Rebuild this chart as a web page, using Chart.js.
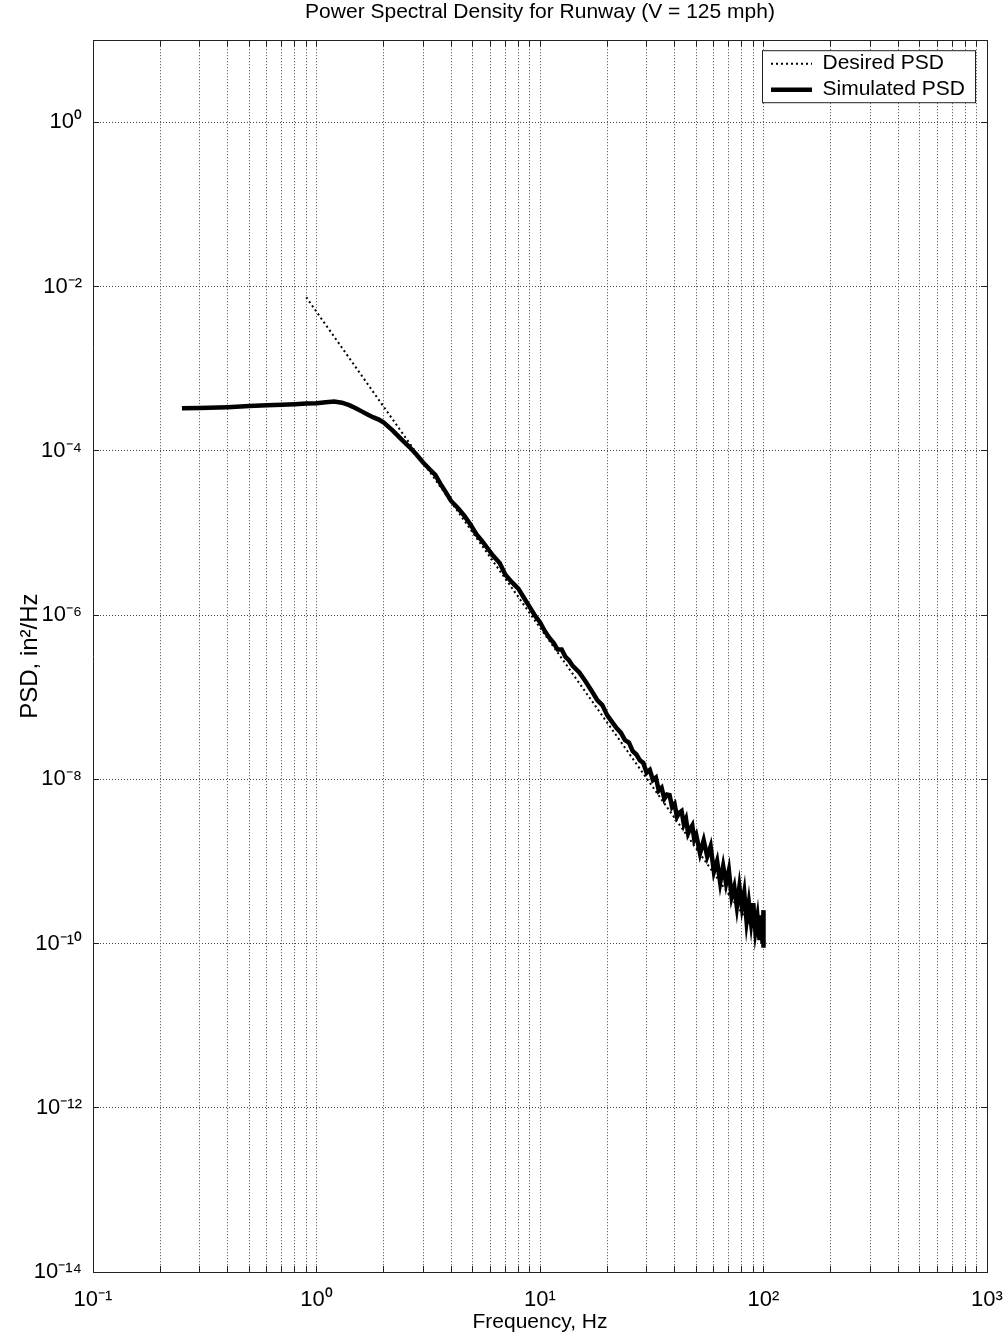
<!DOCTYPE html>
<html>
<head>
<meta charset="utf-8">
<script src="https://cdn.jsdelivr.net/npm/chart.js@4.4.1/dist/chart.umd.min.js"></script>
<style>
  html, body { margin: 0; padding: 0; background: #fff; }
  canvas { display: block; }
</style>
</head>
<body>
<canvas id="psdChart" width="1008" height="1340"></canvas>
<script>
// simulated PSD (Hz, in^2/Hz)
const simFreq = [
  0.25, 0.3, 0.4, 0.5, 0.6, 0.7, 0.8, 0.9, 1.0, 1.1,
  1.2, 1.3, 1.4, 1.5, 1.6, 1.7, 1.8, 1.9, 2.0, 2.2,
  2.4, 2.6, 2.8, 3.0, 3.2, 3.4, 3.6, 3.8, 4.0, 4.3,
  4.6, 4.9, 5.2, 5.5, 5.8, 6.2, 6.6, 7.0, 7.5, 8.0,
  8.5, 9.0, 9.5, 10, 10.5, 11, 11.5, 12, 12.5, 13,
  13.5, 14, 15, 16, 17, 18, 19, 20, 21, 22,
  23, 24, 25, 26, 27, 28, 29, 30, 31, 32,
  33, 34, 35, 36, 37, 38, 39, 40, 41, 42,
  43, 44, 45, 46, 47, 48, 49, 50, 52, 54,
  56, 58, 60, 62, 64, 66, 68, 70, 72, 74,
  76, 78, 80, 82, 84, 86, 88, 90, 92, 94,
  96, 98, 99, 100, 100
];
const simPsd = [
  3.3e-4, 3.32e-4, 3.4e-4, 3.5e-4, 3.58e-4, 3.64e-4, 3.7e-4, 3.76e-4, 3.8e-4, 3.9e-4,
  3.98e-4, 3.85e-4, 3.6e-4, 3.3e-4, 3.0e-4, 2.75e-4, 2.55e-4, 2.4e-4, 2.2e-4, 1.75e-4,
  1.38e-4, 1.12e-4, 9.0e-5, 7.2e-5, 6.0e-5, 5.1e-5, 3.9e-5, 3.1e-5, 2.45e-5, 2.0e-5,
  1.6e-5, 1.25e-5, 9.6e-6, 8.0e-6, 6.6e-6, 5.2e-6, 4.3e-6, 3.1e-6, 2.5e-6, 2.1e-6,
  1.6e-6, 1.25e-6, 9.8e-7, 8.2e-7, 6.4e-7, 5.3e-7, 4.6e-7, 3.8e-7, 3.8e-7, 3.1e-7,
  2.8e-7, 2.4e-7, 2.0e-7, 1.55e-7, 1.2e-7, 9.3e-8, 8.0e-8, 6.0e-8, 5.0e-8, 4.2e-8,
  3.7e-8, 3.0e-8, 2.8e-8, 2.2e-8, 2.0e-8, 1.7e-8, 1.58e-8, 1.20e-8, 1.30e-8, 9.8e-9,
  1.05e-8, 7.3e-9, 7.9e-9, 5.8e-9, 6.5e-9, 6.4e-9, 4.6e-9, 5.0e-9, 3.5e-9, 3.9e-9,
  4.1e-9, 2.85e-9, 3.3e-9, 2.2e-9, 2.5e-9, 2.75e-9, 1.86e-9, 2.1e-9, 1.25e-9, 1.81e-9,
  1.15e-9, 1.53e-9, 7.5e-10, 1.01e-9, 5.5e-10, 8.8e-10, 5.4e-10, 7.8e-10, 3.7e-10, 4.9e-10,
  2.8e-10, 4.9e-10, 2.8e-10, 4.2e-10, 1.87e-10, 3.1e-10, 1.79e-10, 3.1e-10, 1.42e-10, 2.1e-10,
  1.10e-10, 2.2e-10, 1.0e-10, 2.55e-10, 8.9e-11
];

// desired PSD (straight power law on log-log)
const desiredFreq = [0.9, 100];
const desiredPsd = [7.4e-3, 1.0e-10];

const xMajor = [0.1, 1, 10, 100, 1000];
const xTickLabels = ['10⁻¹', '10⁰', '10¹', '10²', '10³'];
const yMajor = [1e-14, 1e-12, 1e-10, 1e-8, 1e-6, 1e-4, 1e-2, 1];
const yTickLabels = ['10⁻¹⁴', '10⁻¹²', '10⁻¹⁰', '10⁻⁸', '10⁻⁶', '10⁻⁴', '10⁻²', '10⁰'];

// x grid: every 1..9 step in each decade
const xGrid = [];
xMajor.slice(0, -1).forEach(d => {
  for (let k = 1; k < 10; k++) xGrid.push(k * d);
});
xGrid.push(xMajor[xMajor.length - 1]);

const toPoints = (xs, ys) => xs.map((x, i) => ({ x: x, y: ys[i] }));

Chart.defaults.font.family = "'Liberation Sans', Arial, sans-serif";
Chart.defaults.font.size = 21;
Chart.defaults.color = '#000';

const INK = '#222';

// white framed legend box in the top right corner of the plot
const legendFrame = {
  id: 'legendFrame',
  afterLayout(chart) {
    const a = chart.chartArea;
    const lg = chart.legend;
    const frame = { left: a.right - 225, top: a.top + 10, width: 213, height: 52 };
    chart.$legendFrame = frame;
    lg.left = frame.left + 4;
    lg.top = frame.top - 2;
    lg.right = lg.left + lg.width;
    lg.bottom = lg.top + lg.height;
  },
  beforeDatasetsDraw(chart) {
    const f = chart.$legendFrame;
    const ctx = chart.ctx;
    ctx.save();
    ctx.fillStyle = '#fff';
    ctx.fillRect(f.left, f.top, f.width, f.height);
    ctx.strokeStyle = INK;
    ctx.lineWidth = 1;
    ctx.strokeRect(f.left + 0.5, f.top + 0.5, f.width, f.height);
    ctx.restore();
    chart.legend.draw();
  }
};

const gridOpts = {
  color: '#444',
  lineWidth: 1,
  tickLength: -6,
  tickColor: INK,
  tickWidth: 1
};
const borderOpts = { color: INK, width: 1, dash: [1, 2] };

new Chart(document.getElementById('psdChart'), {
  type: 'line',
  data: {
    datasets: [
      {
        label: 'Desired PSD',
        data: toPoints(desiredFreq, desiredPsd),
        borderColor: '#000',
        backgroundColor: '#000',
        borderWidth: 2,
        borderDash: [2, 3],
        pointRadius: 0,
        order: 1
      },
      {
        label: 'Simulated PSD',
        data: toPoints(simFreq, simPsd),
        borderColor: '#000',
        backgroundColor: '#000',
        borderWidth: 4.5,
        pointRadius: 0,
        order: 0
      }
    ]
  },
  options: {
    responsive: false,
    animation: false,
    events: [],
    devicePixelRatio: 1,
    layout: { padding: { left: 0, right: 21, top: 0, bottom: 0 } },
    plugins: {
      title: {
        display: true,
        text: 'Power Spectral Density for Runway (V = 125 mph)',
        fullSize: false,
        color: '#000',
        font: { size: 21, weight: 'normal' },
        padding: { top: 0, bottom: 15 }
      },
      legend: {
        position: 'chartArea',
        align: 'start',
        labels: {
          boxWidth: 41,
          boxHeight: 0,
          padding: 5,
          color: '#000',
          font: { size: 21 },
          sort: (a, b) => a.datasetIndex - b.datasetIndex
        }
      },
      tooltip: { enabled: false }
    },
    scales: {
      x: {
        type: 'logarithmic',
        position: 'bottom',
        min: 0.1,
        max: 1000,
        afterBuildTicks: s => { s.ticks = xGrid.map(v => ({ value: v })); },
        afterFit: s => { s.height = 68; s.paddingLeft = 0; s.paddingRight = 0; },
        ticks: {
          autoSkip: false,
          maxRotation: 0,
          padding: 21,
          font: { size: 22 },
          callback: v => {
            const i = xMajor.indexOf(v);
            return i >= 0 ? xTickLabels[i] : '';
          }
        },
        grid: gridOpts,
        border: borderOpts,
        title: {
          display: true,
          text: 'Frequency, Hz',
          font: { size: 21 },
          padding: { top: 0, bottom: 5 }
        }
      },
      y: {
        type: 'logarithmic',
        position: 'left',
        min: 1e-14,
        max: 10,
        afterBuildTicks: s => { s.ticks = yMajor.map(v => ({ value: v })); },
        afterFit: s => { s.width = 93; },
        ticks: {
          autoSkip: false,
          padding: 17,
          font: { size: 22 },
          callback: v => {
            const i = yMajor.indexOf(v);
            return i >= 0 ? yTickLabels[i] : '';
          }
        },
        grid: gridOpts,
        border: borderOpts,
        title: {
          display: true,
          text: 'PSD, in²/Hz',
          font: { size: 24 },
          padding: { top: 16, bottom: 0 }
        }
      },
      x2: {
        type: 'logarithmic',
        position: 'top',
        min: 0.1,
        max: 1000,
        afterBuildTicks: s => { s.ticks = xGrid.map(v => ({ value: v })); },
        afterFit: s => { s.height = 0; s.paddingLeft = 0; s.paddingRight = 0; },
        ticks: { display: false },
        grid: { drawOnChartArea: false, tickLength: -6, tickColor: INK },
        border: { color: INK, width: 1 }
      },
      y2: {
        type: 'logarithmic',
        position: 'right',
        min: 1e-14,
        max: 10,
        afterBuildTicks: s => { s.ticks = yMajor.map(v => ({ value: v })); },
        afterFit: s => { s.width = 0; },
        ticks: { display: false },
        grid: { drawOnChartArea: false, tickLength: -6, tickColor: INK },
        border: { color: INK, width: 1 }
      }
    }
  },
  plugins: [legendFrame]
});
</script>
</body>
</html>
